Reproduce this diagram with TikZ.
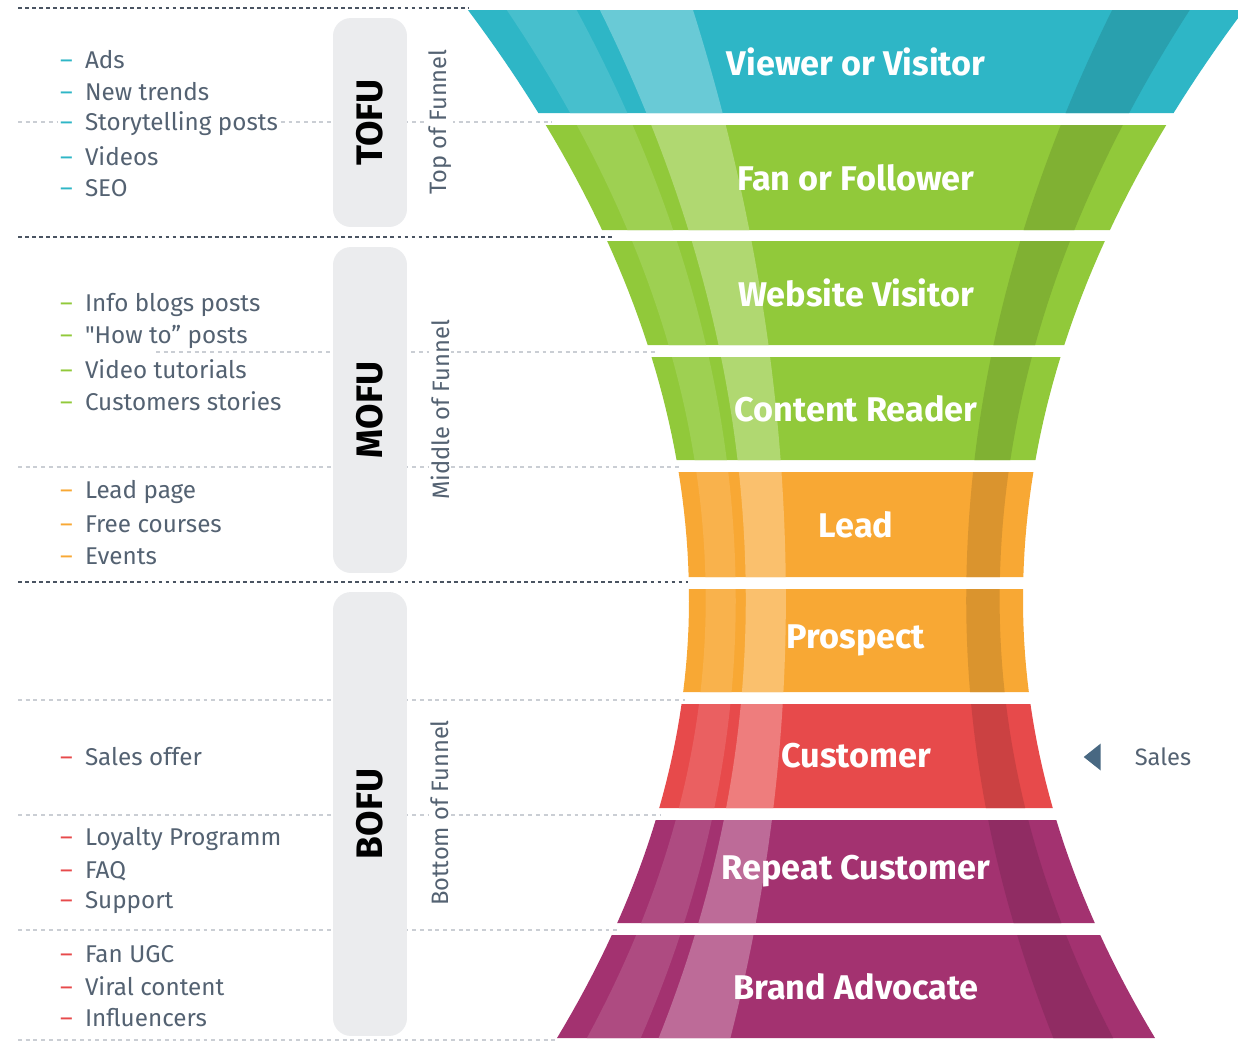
\documentclass[tikz,border=0pt]{standalone}
\usepackage{fontspec}
\setmainfont{Fira Sans}[Ligatures=TeXOff]
\usetikzlibrary{positioning, shapes.geometric}

\definecolor{tealc}{RGB}{46,182,198}
\definecolor{greenc}{RGB}{145,201,58}
\definecolor{orangec}{RGB}{248,168,52}
\definecolor{redc}{RGB}{231,74,75}
\definecolor{plumc}{RGB}{163,50,112}
\definecolor{slate}{RGB}{84,98,114}
\definecolor{pillgray}{RGB}{235,236,238}
\definecolor{dashdark}{RGB}{74,84,98}
\definecolor{dashlight}{RGB}{202,206,212}
\definecolor{salesc}{RGB}{72,104,130}

\tikzset{
	declare function={hw(\v)=(\v<600)*(167+6.35*(6-\v/100)^2)+(\v>=600)*(167+6.88*(\v/100-6)^2);},
	darkdash/.style={dashdark, line width=1.1pt, dash pattern=on 2.2pt off 1.8pt},
	lightdash/.style={dashlight, line width=1pt, dash pattern=on 2.2pt off 2.2pt},
	pill/.style={fill=pillgray, rounded corners=0.36cm, minimum height=1.48cm, font=\fontsize{21}{24}\selectfont\bfseries, text=black},
	sidelabel/.style={rotate=90, fill=white, inner sep=1pt, font=\fontsize{13.5}{16}\selectfont, text=slate},
	bandlabel/.style={font=\fontsize{19.5}{22}\selectfont\bfseries, text=white},
	listitem/.style={anchor=west, fill=white, inner xsep=1pt, inner ysep=0pt, font=\fontsize{13.8}{16}\selectfont, text=slate},
	salesmark/.style={isosceles triangle, isosceles triangle stretches, shape border rotate=180, fill=salesc, inner sep=0pt, minimum height=0.34cm, minimum width=0.54cm}
}

\newcommand\bandstrip[5]{%
	\fill[#5] plot[domain=#1:#2, samples=9, variable=\y] ({856+(#3)*hw(\y)},{\y}) -- plot[domain=#2:#1, samples=9, variable=\y] ({856+(#4)*hw(\y)},{\y}) -- cycle;
}

\begin{document}
\begin{tikzpicture}[x=0.02cm, y=-0.02cm]
	\fill[white] (0,0) rectangle (1238,1042);
	\useasboundingbox (0,0) rectangle (1238,1042);

	\draw[darkdash] (18,8) -- (468,8);
	\draw[darkdash] (18,237) -- (612,237);
	\draw[darkdash] (18,582) -- (688,582);
	\foreach \y/\xa/\xb in {122/18/552, 352/156/656, 467/18/680, 700/18/685, 815/18/660, 930/18/620, 1040/18/557} {
		\draw[lightdash] (\xa,\y) -- (\xb,\y);
	}

	\node[pill, rotate=90, minimum width=4.18cm] (tofu) at (370,122.5) {TOFU};
	\node[pill, rotate=90, minimum width=6.52cm] (mofu) at (370,410) {MOFU};
	\node[pill, rotate=90, minimum width=8.88cm] (bofu) at (370,814) {BOFU};
	\node[sidelabel] (topfunnel) at (440,122) {Top of Funnel};
	\node[sidelabel] (midfunnel) at (440,410) {Middle of Funnel};
	\node[sidelabel] (botfunnel) at (440,813) {Bottom of Funnel};

	\foreach \nm/\y/\c/\txt in {ads/60/tealc/Ads, trends/92/tealc/New trends, story/124/tealc/Storytelling posts, videos/156/tealc/Videos, seo/188/tealc/SEO, blogs/305/greenc/Info blogs posts, howto/337/greenc/"How to” posts, tutorials/369/greenc/Video tutorials, stories/401/greenc/Customers stories, leadpage/492/orangec/Lead page, courses/524/orangec/Free courses, events/556/orangec/Events, offer/757/redc/Sales offer, loyalty/839/redc/Loyalty Programm, faq/871/redc/FAQ, support/903/redc/Support, ugc/954/redc/Fan UGC, viral/986/redc/Viral content, influencers/1018/redc/Influencers} {
		\node[listitem] (\nm) at (58,\y) {\textcolor{\c}{–}\hspace{7pt}\txt};
	}

	\foreach \yt/\yb/\col/\nm/\txt in {10/113/tealc/viewer/Viewer or Visitor, 125/230/greenc/fan/Fan or Follower, 241/345/greenc/website/Website Visitor, 357/460/greenc/reader/Content Reader, 472/577/orangec/lead/Lead, 589/692/orangec/prospect/Prospect, 704/808/redc/customer/Customer, 820/923/plumc/repeat/Repeat Customer, 935/1038/plumc/advocate/Brand Advocate} {
		\bandstrip{\yt}{\yb}{-1}{1}{\col}
		\bandstrip{\yt}{\yb}{-0.9}{-0.72}{\col!88!white}
		\bandstrip{\yt}{\yb}{-0.66}{-0.42}{\col!72!white}
		\bandstrip{\yt}{\yb}{0.66}{0.86}{\col!88!black}
		\node[bandlabel] (\nm) at (856,{(\yt+\yb)/2}) {\txt};
	}

	\node[font=\fontsize{13.5}{16}\selectfont, text=slate] (sales) at (1163,757) {Sales};
	\node[salesmark, left=0.55cm of sales] (salestip) {};
\end{tikzpicture}
\end{document}
